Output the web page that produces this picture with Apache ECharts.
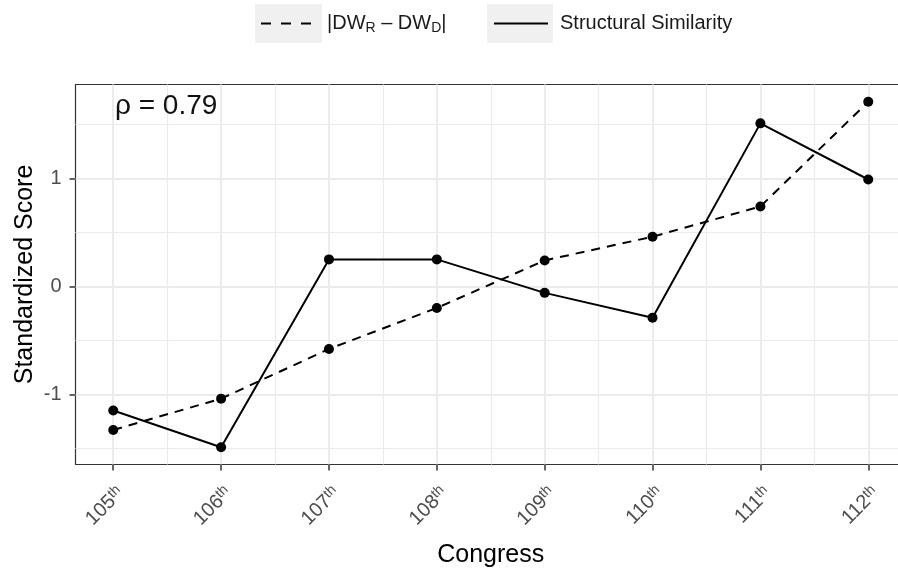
<!DOCTYPE html>
<html><head><meta charset="utf-8">
<script src="https://cdn.jsdelivr.net/npm/echarts@6/dist/echarts.min.js"></script>
<style>html,body{margin:0;padding:0;background:#fff}#c{width:898px;height:569px}</style>
</head><body><div id="c"></div>
<script>
const congress = [105, 106, 107, 108, 109, 110, 111, 112];
const dwGap = [-1.33, -1.04, -0.58, -0.20, 0.24, 0.46, 0.74, 1.71];
const structSim = [-1.15, -1.49, 0.25, 0.25, -0.06, -0.29, 1.51, 0.99];
const yTicks = [-1, 0, 1];
const yMinor = [-1.5, -0.5, 0.5, 1.5];
const xMinor = [105.5, 106.5, 107.5, 108.5, 109.5, 110.5, 111.5];
const rhoText = 'ρ = 0.79';
const seriesNames = ['|DWR – DWD|', 'Structural Similarity'];

const FONT = "'Liberation Sans', Arial, Helvetica, sans-serif";
const chart = echarts.init(document.getElementById('c'), null, {renderer: 'canvas'});

const gridC = '#ebebeb';
const opt = {
  animation: false,
  backgroundColor: '#fff',
  textStyle: {fontFamily: FONT},
  grid: {left: 75.5, top: 84.5, bottom: 104.5, right: -8, show: true, borderColor: '#333', borderWidth: 1.2,
         backgroundColor: '#fff', outerBoundsMode: 'none', containLabel: false},
  graphic: [
    {type: 'rect', shape: {x: 255, y: 4, width: 67, height: 39}, style: {fill: '#f0f0f0'}, z: 0},
    {type: 'rect', shape: {x: 487, y: 4, width: 66, height: 39}, style: {fill: '#f0f0f0'}, z: 0},
    {type: 'text', x: 115, y: 106, z: 10, style: {text: rhoText, font: "28px " + FONT, fill: '#111', verticalAlign: 'middle', align: 'left'}}
  ],
  legend: [
    {data: [seriesNames[0]], left: 260, top: 13.5, itemWidth: 52, itemHeight: 20, padding: 0,
     itemStyle: {opacity: 0}, lineStyle: {type: [10, 10], width: 2},
     formatter: () => '{a||DW}{b|R}{a| – DW}{b|D}{a||}',
     textStyle: {padding: [0, 0, 0, 9], rich: {
       a: {fontSize: 20, fontFamily: FONT, color: '#1a1a1a', lineHeight: 24},
       b: {fontSize: 14, fontFamily: FONT, color: '#1a1a1a', lineHeight: 14, verticalAlign: 'bottom'}
     }}},
    {data: [seriesNames[1]], left: 493, top: 13.5, itemWidth: 54, itemHeight: 20, padding: 0,
     itemStyle: {opacity: 0}, lineStyle: {width: 2},
     textStyle: {padding: [0, 0, 0, 7], fontSize: 20, fontFamily: FONT, color: '#1a1a1a'}}
  ],
  xAxis: [
    {type: 'value', min: 104.65, max: 112.35, gridIndex: 0, position: 'bottom',
     name: 'Congress', nameLocation: 'middle', nameGap: 78,
     nameTextStyle: {fontSize: 25, color: '#000', fontFamily: FONT},
     axisLine: {show: false, onZero: false},
     axisTick: {show: true, length: 6, customValues: congress, lineStyle: {color: '#333', width: 1.5}},
     axisLabel: {customValues: congress, rotate: 45, margin: 18, color: '#4d4d4d',
       align: 'right', verticalAlign: 'top',
       formatter: v => '{n|' + v + '}{s|th}',
       rich: {n: {fontSize: 20, fontFamily: FONT, color: '#4d4d4d', lineHeight: 22},
              s: {fontSize: 14, fontFamily: FONT, color: '#4d4d4d', lineHeight: 14, verticalAlign: 'top'}}},
     splitLine: {show: true, lineStyle: {color: gridC, width: 2}}, z: 1},
    {type: 'value', min: 104.65, max: 112.35, gridIndex: 0, position: 'top',
     axisLine: {show: false, onZero: false}, axisTick: {show: false, customValues: xMinor},
     axisLabel: {show: false, customValues: xMinor},
     splitLine: {show: true, lineStyle: {color: gridC, width: 1.2}}, z: 0}
  ],
  yAxis: [
    {type: 'value', min: -1.65, max: 1.87, gridIndex: 0, position: 'left',
     name: 'Standardized Score', nameLocation: 'middle', nameGap: 38, nameRotate: 90,
     nameMoveOverlap: false,
     nameTextStyle: {fontSize: 25, color: '#000', fontFamily: FONT},
     axisLine: {show: false, onZero: false},
     axisTick: {show: true, length: 6, customValues: yTicks, lineStyle: {color: '#333', width: 1.5}},
     axisLabel: {customValues: yTicks, margin: 14, fontSize: 20, color: '#4d4d4d', fontFamily: FONT},
     splitLine: {show: true, lineStyle: {color: gridC, width: 2}}, z: 1},
    {type: 'value', min: -1.65, max: 1.87, gridIndex: 0, position: 'right',
     axisLine: {show: false, onZero: false}, axisTick: {show: false, customValues: yMinor},
     axisLabel: {show: false, customValues: yMinor},
     splitLine: {show: true, lineStyle: {color: gridC, width: 1.2}}, z: 0}
  ],
  series: [
    {name: seriesNames[0], type: 'line', xAxisIndex: 0, yAxisIndex: 0,
     data: congress.map((c, i) => [c, dwGap[i]]),
     symbol: 'circle', symbolSize: 10, itemStyle: {color: '#000'},
     lineStyle: {color: '#000', width: 2, type: [9, 7]}, z: 5},
    {name: seriesNames[1], type: 'line', xAxisIndex: 0, yAxisIndex: 0,
     data: congress.map((c, i) => [c, structSim[i]]),
     symbol: 'circle', symbolSize: 10, itemStyle: {color: '#000'},
     lineStyle: {color: '#000', width: 2, type: 'solid'}, z: 5}
  ]
};
chart.setOption(opt);
</script></body></html>
